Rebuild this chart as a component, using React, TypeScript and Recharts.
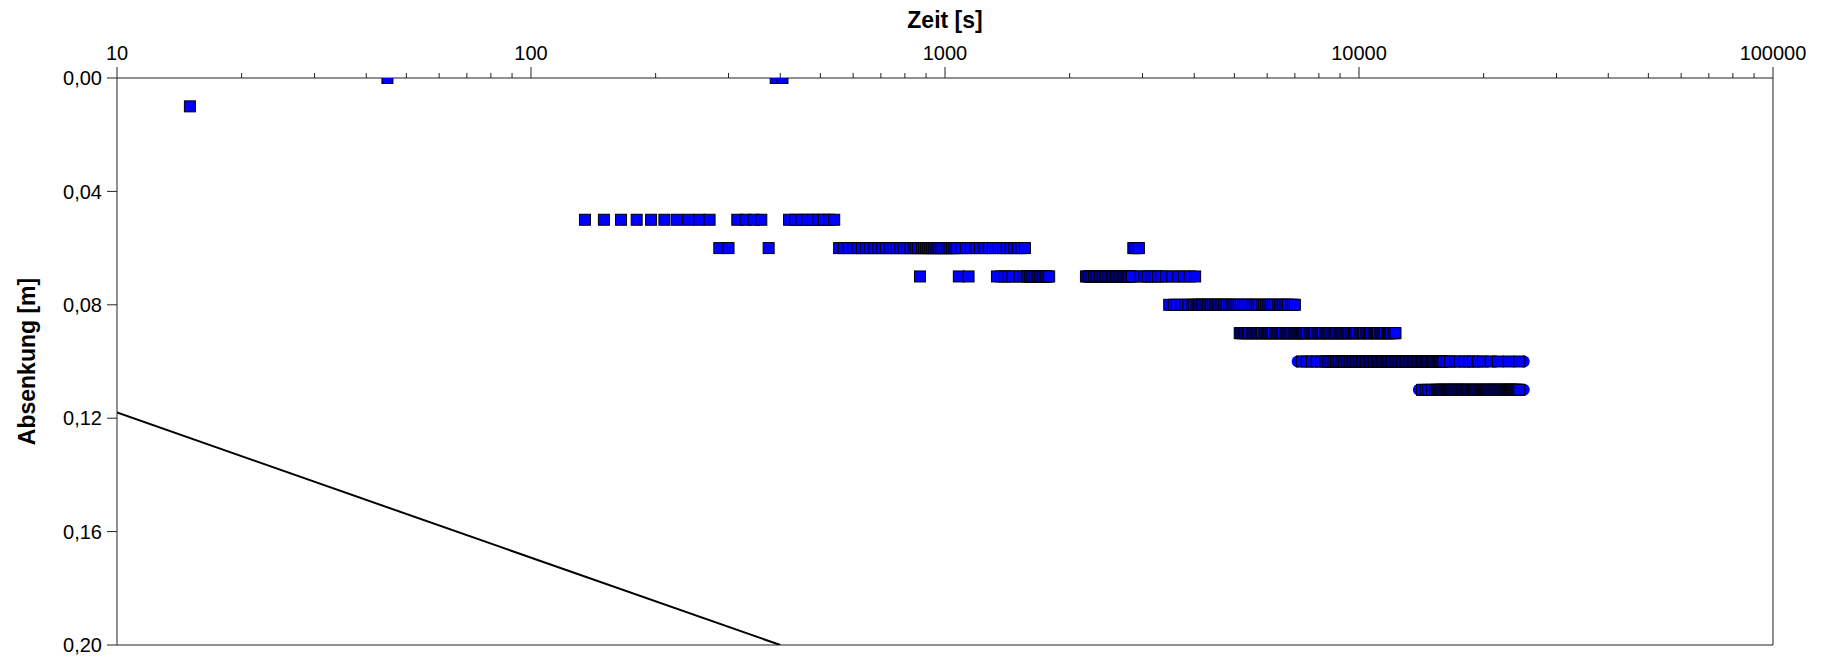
import React from "react";
import {
  ComposedChart,
  Scatter,
  Line,
  XAxis,
  YAxis,
  ReferenceLine,
  Label,
} from "recharts";

const t000 = [45, 390, 405];
const t001 = [15];
const t005 = [135, 150, 165, 180, 195, 210, 225, 240, 255, 270, 315, 330, 345, 360, 420, 435, 450, 465, 480, 495, 510, 525, 540];
const t006 = [
  285, 300, 375, 555, 570, 585, 600, 615, 630, 645, 660, 675, 690, 705, 720, 735, 750, 765, 780, 795, 810, 825, 840, 850,
  860, 880, 890, 900, 910, 920, 930, 940, 950, 960, 970, 980, 990, 1000, 1010, 1020, 1030, 1040, 1050, 1060, 1070, 1095,
  1125, 1155, 1185, 1215, 1245, 1275, 1305, 1350, 1380, 1410, 1440, 1470, 1500, 1530, 1560, 2850, 2880, 2910, 2940,
];
const t007 = [
  870, 1080, 1140, 1335, 1365, 1395, 1425, 1455, 1515, 1545, 1575, 1590, 1605, 1620, 1635, 1650, 1665, 1680, 1695, 1710,
  1725, 1740, 1755, 1770, 1785, 2190, 2210, 2230, 2250, 2270, 2290, 2310, 2330, 2350, 2370, 2390, 2410, 2430, 2450, 2470,
  2490, 2510, 2530, 2550, 2570, 2590, 2610, 2630, 2650, 2670, 2690, 2710, 2730, 2750, 2770, 2790, 2810, 2830, 2970, 3030,
  3090, 3150, 3210, 3270, 3330, 3420, 3540, 3660, 3780, 3900, 4020,
];
const t008 = [
  3480, 3570, 3630, 3720, 3810, 3870, 3960, 3990, 4050, 4080, 4110, 4140, 4170, 4200, 4240, 4280, 4320, 4360, 4400, 4440,
  4480, 4520, 4560, 4600, 4640, 4680, 4720, 4760, 4800, 4850, 4900, 4950, 5000, 5060, 5120, 5180, 5240, 5300, 5360, 5420,
  5480, 5540, 5600, 5660, 5720, 5840, 5900, 5960, 6020, 6080, 6140, 6200, 6260, 6380, 6440, 6500, 6560, 6620, 6680, 6740,
  6860, 6920, 7000,
];
const t009 = [
  5150, 5190, 5230, 5270, 5310, 5350, 5390, 5430, 5510, 5550, 5590, 5630, 5670, 5710, 5750, 5790, 5830, 5910, 5950, 5990,
  6030, 6070, 6110, 6150, 6190, 6270, 6310, 6350, 6390, 6430, 6470, 6510, 6550, 6630, 6670, 6710, 6750, 6790, 6830, 6870,
  6950, 6990, 7030, 7070, 7110, 7150, 7190, 7230, 7280, 7330, 7380, 7430, 7480, 7580, 7630, 7680, 7730, 7780, 7830, 7930,
  7980, 8030, 8080, 8130, 8180, 8280, 8330, 8380, 8430, 8480, 8530, 8630, 8680, 8730, 8780, 8830, 8930, 8980, 9030, 9080,
  9130, 9180, 9280, 9330, 9380, 9430, 9480, 9580, 9650, 9720, 9790, 9860, 10000, 10070, 10140, 10210, 10280, 10420, 10490,
  10560, 10630, 10700, 10840, 10910, 10980, 11050, 11120, 11260, 11330, 11400, 11470, 11540, 11680, 11750, 11820, 11890,
  11960, 12100, 12170, 12250,
];
const t010 = [
  7280, 7480, 7700, 7900, 8100, 8300, 8400, 8480, 8560, 8640, 8720, 8800, 8880, 8960, 9040, 9120, 9200, 9280, 9360, 9440,
  9520, 9600, 9680, 9760, 9840, 9920, 10000, 10080, 10160, 10240, 10320, 10400, 10480, 10560, 10640, 10720, 10800, 10880,
  10960, 11040, 11120, 11200, 11280, 11360, 11440, 11520, 11600, 11680, 11760, 11840, 11920, 12000, 12100, 12200, 12300,
  12400, 12500, 12600, 12700, 12800, 12900, 13000, 13100, 13200, 13300, 13400, 13500, 13600, 13700, 13800, 13900, 14000,
  14100, 14200, 14300, 14400, 14500, 14600, 14700, 14800, 14900, 15000, 15100, 15200, 15300, 15400, 15500, 15600, 15700,
  15800, 15900, 16000, 16300, 16600, 17070, 17500, 18040, 18450, 18860, 19400, 19930, 20800, 21660, 23000, 24400,
];
const t011 = [
  14200, 14500, 14700, 15000, 15250, 15400, 15500, 15600, 15700, 15800, 15900, 16000, 16100, 16200, 16300, 16400, 16500,
  16600, 16700, 16800, 16900, 17000, 17100, 17200, 17300, 17400, 17500, 17600, 17700, 17800, 17900, 18000, 18120, 18240,
  18360, 18480, 18600, 18720, 18840, 18960, 19080, 19200, 19320, 19440, 19560, 19680, 19800, 19920, 20040, 20160, 20280,
  20400, 20520, 20640, 20760, 20880, 21000, 21120, 21240, 21360, 21480, 21600, 21720, 21840, 21960, 22080, 22200, 22320,
  22440, 22560, 22680, 22800, 22920, 23040, 23160, 23280, 23400, 23520, 23640, 23760, 23880, 24000, 24120, 24240, 24400,
];
// Kreise (zweite Messreihe, nur an den Enden sichtbar)
const c010 = [7110, 25000];
const c011 = [13950, 25000];

// Geradenanpassung
const lineT = [10, 400];
const lineS = [0.118, 0.2];

const majorTicks = [10, 100, 1000, 10000, 100000];
const minorTicks = [
  20, 30, 40, 50, 60, 70, 80, 90, 200, 300, 400, 500, 600, 700, 800, 900, 2000, 3000, 4000, 5000, 6000, 7000, 8000, 9000,
  20000, 30000, 40000, 50000, 60000, 70000, 80000, 90000,
];
const yTicks = [0, 0.04, 0.08, 0.12, 0.16, 0.2];

const pts = (times: number[], s: number) => times.map((t) => ({ t, s }));
const lineData = lineT.map((t, i) => ({ t, s: lineS[i] }));

const AXIS = "#222";
const TICK_SIZE = 11;
const TICK_MARGIN = 7;

const allTicks = [...majorTicks, ...minorTicks].sort((a, b) => a - b);

const XTick = (props: any) => {
  const { x, y, payload } = props;
  const v = payload.value;
  const major = majorTicks.includes(v);
  const axisY = y + TICK_SIZE + TICK_MARGIN;
  return (
    <g>
      <line x1={x} x2={x} y1={axisY} y2={axisY - (major ? 11 : 5)} stroke={AXIS} />
      {major && (
        <text x={x} y={axisY - 18} textAnchor="middle" fontSize={20} fill="#000">
          {v}
        </text>
      )}
    </g>
  );
};

const square = (p: any) => (
  <rect x={p.cx - 5.5} y={p.cy - 5.5} width={11} height={11} fill="#0000ff" stroke="#000" strokeWidth={1} />
);
const dot = (p: any) => <circle cx={p.cx} cy={p.cy} r={6} fill="#0000ff" />;

const levels: [number[], number][] = [
  [t000, 0],
  [t001, 0.01],
  [t005, 0.05],
  [t006, 0.06],
  [t007, 0.07],
  [t008, 0.08],
  [t009, 0.09],
  [t010, 0.1],
  [t011, 0.11],
];

export default function App() {
  return (
    <div style={{ position: "absolute", left: 0, top: 0, fontFamily: "'Liberation Sans', Arial, sans-serif" }}>
      <ComposedChart width={1829} height={658} margin={{ top: 0, right: 56, bottom: 13, left: 0 }}>
        <XAxis
          dataKey="t"
          type="number"
          scale="log"
          orientation="top"
          domain={[10, 100000]}
          allowDataOverflow
          ticks={allTicks}
          interval={0}
          height={78}
          tickSize={TICK_SIZE}
          tickMargin={TICK_MARGIN}
          tickLine={false}
          tick={<XTick />}
          axisLine={{ stroke: AXIS }}
        >
          <Label
            content={({ viewBox }: any) => (
              <text
                x={viewBox.x + viewBox.width / 2}
                y={viewBox.y + 28}
                textAnchor="middle"
                fontSize={23}
                fontWeight="bold"
                fill="#000"
              >
                Zeit [s]
              </text>
            )}
          />
        </XAxis>
        <YAxis
          dataKey="s"
          type="number"
          reversed
          domain={[0, 0.2]}
          allowDataOverflow
          ticks={yTicks}
          interval={0}
          width={117}
          tickSize={10}
          tickMargin={5}
          tickFormatter={(v: number) => v.toFixed(2).replace(".", ",")}
          tick={{ fontSize: 20, fill: "#000" }}
          tickLine={{ stroke: AXIS }}
          axisLine={{ stroke: AXIS }}
        >
          <Label
            content={({ viewBox }: any) => {
              const cx = viewBox.x + 35;
              const cy = viewBox.y + viewBox.height / 2;
              return (
                <text
                  x={cx}
                  y={cy}
                  transform={`rotate(-90 ${cx} ${cy})`}
                  textAnchor="middle"
                  fontSize={23}
                  fontWeight="bold"
                  fill="#000"
                >
                  Absenkung [m]
                </text>
              );
            }}
          />
        </YAxis>
        <ReferenceLine x={100000} stroke={AXIS} />
        <ReferenceLine y={0.2} stroke={AXIS} />
        <Scatter data={pts(c010, 0.1)} shape={dot} isAnimationActive={false} />
        <Scatter data={pts(c011, 0.11)} shape={dot} isAnimationActive={false} />
        {levels.map(([times, s]) => (
          <Scatter key={s} data={pts(times, s)} shape={square} isAnimationActive={false} />
        ))}
        <Line
          data={lineData}
          dataKey="s"
          stroke="#000"
          strokeWidth={2}
          dot={false}
          isAnimationActive={false}
        />
      </ComposedChart>
    </div>
  );
}
